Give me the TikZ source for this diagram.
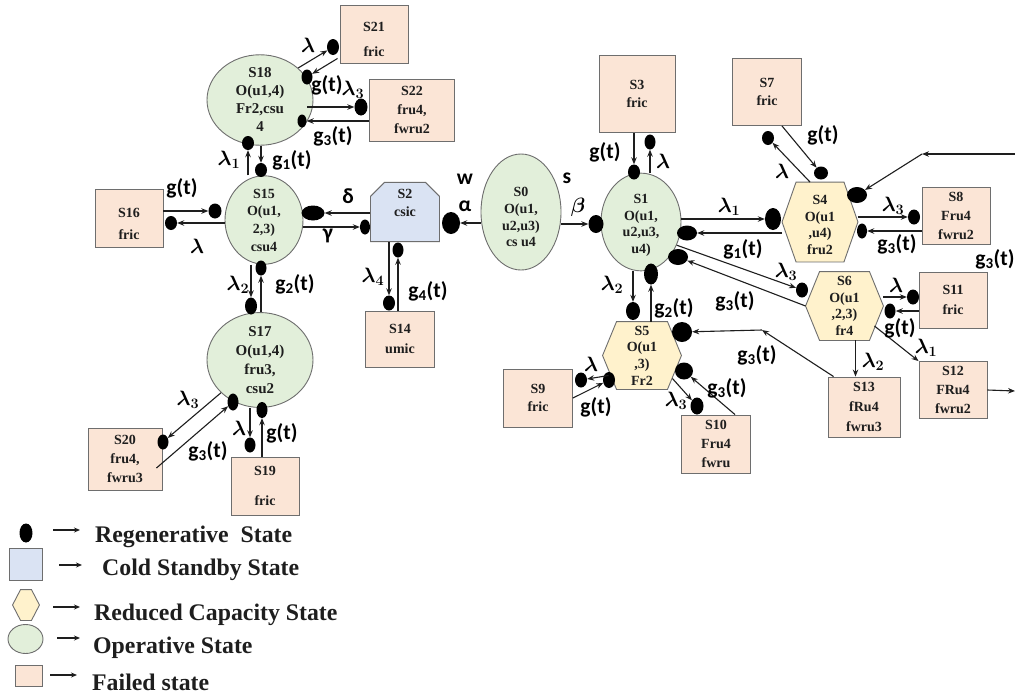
\documentclass[tikz,border=0pt]{standalone}
\usepackage{fontspec}
\setmainfont{Liberation Serif}
\newfontfamily\carlito{Carlito}
\usepackage{amsmath}
\usetikzlibrary{shapes.geometric,shapes.misc,arrows.meta,calc}
\pgfdeclarelayer{background}
\pgfsetlayers{background,main}
\definecolor{opfill}{HTML}{E2EFDA}
\definecolor{flfill}{HTML}{FBE5D6}
\definecolor{csfill}{HTML}{DAE3F3}
\definecolor{rcfill}{HTML}{FFF2CC}
\definecolor{bord}{HTML}{6E6E6E}
\definecolor{txt}{HTML}{1E1E1E}
\newcommand{\nf}{\fontsize{14}{16.7}\selectfont\bfseries}
\newcommand{\lf}{\fontsize{21.5}{24}\selectfont\carlito\bfseries}
\newcommand{\hexof}[2]{\begin{pgfonlayer}{background}\draw[hexpath] (#1.west) -- ([xshift=#2pt]#1.north west) -- ([xshift=-#2pt]#1.north east) -- (#1.east) -- ([xshift=-#2pt]#1.south east) -- ([xshift=#2pt]#1.south west) -- cycle;\end{pgfonlayer}}
\tikzset{
  base/.style={draw=bord, line width=0.9pt, inner sep=0pt, align=center, font=\nf, text=txt},
  fs/.style 2 args={font=\fontsize{#1}{#2}\selectfont\bfseries},
  opst/.style 2 args={base, ellipse, fill=opfill, minimum width=#1pt, minimum height=#2pt},
  flst/.style 2 args={base, rectangle, fill=flfill, minimum width=#1pt, minimum height=#2pt},
  rcst/.style 2 args={base, draw=none, rectangle, minimum width=#1pt, minimum height=#2pt},
  csst/.style 2 args={base, chamfered rectangle, chamfered rectangle corners={north west,north east}, chamfered rectangle xsep=7pt, chamfered rectangle ysep=7pt, fill=csfill, minimum width=#1pt, minimum height=#2pt},
  dot/.style 2 args={ellipse, fill=black, draw=none, inner sep=0pt, minimum width=#1pt, minimum height=#2pt},
  arr/.style={draw=txt, line width=1.1pt, -{Stealth[length=7pt,width=5.5pt]}},
  legarr/.style={draw=txt, line width=1.5pt, -{Stealth[length=6pt,width=5pt]}},
  lab/.style={font=\lf, inner sep=0pt, text=black},
  lam/.style={font=\fontsize{20}{22}\selectfont\boldmath, inner sep=0pt, text=black},
  legt/.style={anchor=base west, inner sep=0pt, font=\fontsize{23.8}{26}\selectfont\bfseries, text=txt},
  hexpath/.style={draw=bord, line width=0.9pt, fill=rcfill},
}
\begin{document}
\begin{tikzpicture}[x=1pt,y=-1pt]
\begin{pgfonlayer}{background}
\fill[white] (0,0) rectangle (1015,697);
\end{pgfonlayer}
\useasboundingbox (0,0) rectangle (1015,697);

% ---------- states ----------
\node[opst={106}{90}, fs={15}{18}] (S18) at (260,100) {S18\\O(u1,4)\\Fr2,csu\\4};
\node[flst={68}{58}] (S21) at (374,34) {\rule{0pt}{20pt}S21\\[8pt]fric};
\node[flst={85}{62}, fs={14}{19}] (S22) at (412,110) {S22\\fru4,\\fwru2};
\node[opst={78}{86}, fs={14}{17.7}] (S15) at (264,220) {S15\\O(u1,\\2,3)\\csu4};
\node[flst={68}{58}] (S16) at (129,218) {\rule{0pt}{21pt}S16\\[5pt]fric};
\node[csst={69}{59}, fs={14}{18}] (S2) at (405,212) {S2\\csic\\\mbox{}};
\node[flst={69}{56}] (S14) at (400,339) {S14\\[3pt]umic};
\node[opst={106}{86}, fs={15}{19}] (S17) at (260,360) {S17\\O(u1,4)\\fru3,\\csu2};
\node[flst={74}{62}, fs={14}{19}] (S20) at (125,459) {S20\\fru4,\\fwru3};
\node[flst={68}{58}] (S19) at (265,486) {S19\\[13pt]fric};
\node[opst={80}{116}] (S0) at (521,212) {\rule{0pt}{20pt}S0\\O(u1,\\u2,u3)\\cs u4};
\node[opst={80}{84}] (S1) at (641,222) {\rule{0pt}{16pt}S1\\O(u1,\\u2,u3,\\u4)};
\node[flst={76}{77}] (S3) at (637,94) {S3\\[1pt]fric};
\node[rcst={75}{79}] (S4) at (820,222) {\rule{0pt}{15pt}S4\\O(u1\\,u4)\\fru2};
\hexof{S4}{14}
\node[flst={69}{67}] (S7) at (767,92) {S7\\[1pt]fric};
\node[flst={68}{57}, fs={14}{19}] (S8) at (956,216) {S8\\Fru4\\fwru2};
\node[rcst={77}{68}] (S6) at (844.5,306) {S6\\O(u1\\,2,3)\\fr4};
\hexof{S6}{14}
\node[flst={68}{56}] (S11) at (953,300) {S11\\[3pt]fric};
\node[flst={68}{57}, fs={14}{19}] (S12) at (953,390) {S12\\FRu4\\fwru2};
\node[flst={72}{60}, fs={14}{20}] (S13) at (864,407) {S13\\fRu4\\fwru3};
\node[rcst={78}{67}] (S5) at (642,355.5) {S5\\O(u1\\,3)\\Fr2};
\hexof{S5}{14}
\node[flst={69}{58}] (S9) at (538,398) {S9\\[1pt]fric};
\node[flst={69}{58}, fs={14}{19}] (S10) at (716,444) {S10\\Fru4\\fwru};

% ---------- regenerative dots ----------
\node[dot={12}{16}] (d18a) at (333,47) {};
\node[dot={11}{15}] (d18b) at (307,77) {};
\node[dot={13}{17}] (d18c) at (361,107) {};
\node[dot={9}{13}] (d18d) at (302,121) {};
\node[dot={12}{14}] (d18e) at (248,143) {};
\node[dot={12}{14}] (d15a) at (261,170) {};
\node[dot={13}{15}] (d15b) at (215,211) {};
\node[dot={12}{14}] (d16a) at (171,223) {};
\node[dot={23}{15}] (d15c) at (313,213) {};
\node[dot={10}{15}] (d2a) at (365,227) {};
\node[dot={18}{22}] (d2b) at (451,223) {};
\node[dot={12}{15}] (d14a) at (389,303) {};
\node[dot={11}{15}] (d2c) at (398,250) {};
\node[dot={15}{18}] (d1a) at (596,224) {};
\node[dot={12}{15}] (d1b) at (634,172) {};
\node[dot={11}{15}] (d3a) at (650,142) {};
\node[dot={16}{22}] (d4a) at (773,219) {};
\node[dot={20}{15}] (d1c) at (687,233) {};
\node[dot={12}{15}] (d6a) at (802,290) {};
\node[dot={20}{16}] (d1d) at (678,257) {};
\node[dot={12}{14}] (d7a) at (768,138) {};
\node[dot={14}{13}] (d4b) at (821,173) {};
\node[dot={20}{16}] (d4c) at (857,195) {};
\node[dot={12}{15}] (d8a) at (914,217) {};
\node[dot={10}{15}] (d4d) at (862,231) {};
\node[dot={12}{15}] (d11a) at (913,297) {};
\node[dot={11}{15}] (d6b) at (890,311) {};
\node[dot={20}{20}] (d5a) at (682,332) {};
\node[dot={14}{18}] (d5b) at (633,311) {};
\node[dot={14}{21}] (d1e) at (651,274) {};
\node[dot={12}{15}] (d9a) at (581,380) {};
\node[dot={12}{16}] (d5c) at (609,380) {};
\node[dot={13}{17}] (d10a) at (697,406) {};
\node[dot={18}{17}] (d5d) at (684,371) {};
\node[dot={12}{17}] (d17a) at (251,306) {};
\node[dot={11}{15}] (d15d) at (261,268) {};
\node[dot={11}{15}] (d20a) at (163,442) {};
\node[dot={11}{17}] (d17b) at (233,402) {};
\node[dot={11}{15}] (d19a) at (250,445) {};
\node[dot={11}{16}] (d17c) at (262,410) {};

\coordinate (c0) at (1015,154);
\coordinate (c1) at (922,154);
\coordinate (c2) at (1015,391);
\coordinate (c3) at (762,330);

% ---------- connectors ----------
\draw[arr] (S18.40) -- (d18a);
\draw[arr] ([shift={(-2,-5)}]S21.south west) -- (d18b);
\draw[arr] ([xshift=-6pt]S18.east |- d18c) -- (d18c);
\draw[arr] (S22.west |- d18d) -- (d18d);
\draw[arr] (d18e |- S15.north) -- (d18e);
\draw[arr] (d15a |- S18.south) -- (d15a);
\draw[arr] (S16.east |- d15b) -- (d15b);
\draw[arr] (S15.west |- d16a) -- (d16a);
\draw[arr] (S2.west |- d15c) -- (d15c);
\draw[arr] (S15.east |- d2a) -- (d2a);
\draw[arr] (d14a |- S2.south) -- (d14a);
\draw[arr] (d2c |- S14.north) -- (d2c);
\draw[arr] (S0.west |- d2b) -- (d2b);
\draw[arr] (S0.east |- d1a) -- (d1a);
\draw[arr] (d1b |- S3.south) -- (d1b);
\draw[arr] (d3a |- S1.north) -- (d3a);
\draw[arr] (S1.east |- d4a) -- (d4a);
\draw[arr] (S4.west |- d1c) -- (d1c);
\draw[arr] (S1.-33) -- (d6a);
\draw[arr] (S6.west) -- (d1d);
\draw[arr] ([xshift=-10pt]S4.north) -- (d7a);
\draw[arr] ([xshift=15pt]S7.south) -- (d4b);
\draw[arr] (c0) -- (c1);
\draw[arr] (c1) -- (d4c);
\draw[arr] (S4.east |- d8a) -- (d8a);
\draw[arr] (S8.west |- d4d) -- (d4d);
\draw[arr] (S6.east |- d11a) -- (d11a);
\draw[arr] (S11.west |- d6b) -- (d6b);
\draw[arr] ([shift={(-9,20)}]S6.east) -- (S12.north west);
\draw[arr] (S12.east) -- (c2);
\draw[arr] ([xshift=11pt]S6.south) -- ([xshift=11pt]S6.south |- S13.north);
\draw[arr] ([xshift=6pt]S13.north west) -- (c3);
\draw[arr] (c3) -- (d5a);
\draw[arr] (d5b |- S1.south) -- (d5b);
\draw[arr] (d1e |- S5.north) -- (d1e);
\draw[arr] ([shift={(6,20)}]S5.west) -- (d9a);
\draw[arr] (S9.east) -- (d5c);
\draw[arr] ([shift={(-9,23)}]S5.east) -- (d10a);
\draw[arr] ([xshift=19pt]S10.north) -- (d5d);
\draw[arr] (d17a |- S15.south) -- (d17a);
\draw[arr] (d15d |- S17.north) -- (d15d);
\draw[arr] (S17.220) -- (d20a);
\draw[arr] ([shift={(-6,9)}]S20.east) -- (d17b);
\draw[arr] (d19a |- S17.south) -- (d19a);
\draw[arr] (d17c |- S19.north) -- (d17c);

% ---------- labels ----------
\node[lam] (l1) at (308,45) {$\lambda$};
\node[lab] (l2) at (327,85) {g(t)};
\node[lam] (l3) at (353,90) {$\lambda_3$};
\node[lab] (l4) at (333,136) {g\textsubscript{3}(t)};
\node[lam] (l5) at (229,160) {$\lambda_1$};
\node[lab] (l6) at (292,160) {g\textsubscript{1}(t)};
\node[lab] (l7) at (182,188) {g(t)};
\node[lam] (l8) at (197,246) {$\lambda$};
\node[lab] (l9) at (348,196) {δ};
\node[lab] (l10) at (328,236) {γ};
\node[lam] (l11) at (373,277) {$\lambda_4$};
\node[lab] (l12) at (428,291) {g\textsubscript{4}(t)};
\node[lab] (l13) at (465,179) {w};
\node[lab] (l14) at (465,206) {α};
\node[lab] (l15) at (567,178) {s};
\node[lam] (l16) at (578,207) {$\beta$};
\node[lab] (l17) at (605,152) {g(t)};
\node[lam] (l18) at (663,161) {$\lambda$};
\node[lam] (l19) at (729,207) {$\lambda_1$};
\node[lab] (l20) at (743,249) {g\textsubscript{1}(t)};
\node[lam] (l21) at (786,272) {$\lambda_3$};
\node[lab] (l22) at (735,301) {g\textsubscript{3}(t)};
\node[lam] (l23) at (782,171) {$\lambda$};
\node[lab] (l24) at (823,135) {g(t)};
\node[lam] (l25) at (893,206) {$\lambda_3$};
\node[lab] (l26) at (897,244) {g\textsubscript{3}(t)};
\node[lab] (l27) at (995,259) {g\textsubscript{3}(t)};
\node[lam] (l28) at (896,285) {$\lambda$};
\node[lab] (l29) at (900,328) {g(t)};
\node[lam] (l30) at (926,348) {$\lambda_1$};
\node[lam] (l31) at (873,362) {$\lambda_2$};
\node[lab] (l32) at (757,355) {g\textsubscript{3}(t)};
\node[lam] (l33) at (612,285) {$\lambda_2$};
\node[lab] (l34) at (674,308) {g\textsubscript{2}(t)};
\node[lam] (l35) at (591,364) {$\lambda$};
\node[lab] (l36) at (596,407) {g(t)};
\node[lam] (l37) at (676,401) {$\lambda_3$};
\node[lab] (l38) at (727,388) {g\textsubscript{3}(t)};
\node[lam] (l39) at (238,285) {$\lambda_2$};
\node[lab] (l40) at (295,284) {g\textsubscript{2}(t)};
\node[lam] (l41) at (188,400) {$\lambda_3$};
\node[lab] (l42) at (208,451) {g\textsubscript{3}(t)};
\node[lam] (l43) at (239,428) {$\lambda$};
\node[lab] (l44) at (282,433) {g(t)};

% ---------- legend ----------
\node[dot={13}{19}] (Lg1) at (26,533) {};
\node[csst={33}{32}, chamfered rectangle xsep=6pt, chamfered rectangle ysep=6pt] (Lg2) at (25.5,564) {};
\node[rcst={26}{30}] (Lg3) at (26,605) {};
\hexof{Lg3}{8}
\node[opst={35}{29}] (Lg4) at (25.5,639) {};
\node[flst={27}{21}] (Lg5) at (28.5,675.5) {};
\node[legt] (Lt1) at (95,542) {Regenerative\ \ State};
\node[legt] (Lt2) at (102,575) {Cold Standby State};
\node[legt] (Lt3) at (94,620) {Reduced Capacity State};
\node[legt] (Lt4) at (93,653) {Operative State};
\node[legt] (Lt5) at (92,690) {Failed state};
\coordinate (La1) at (53,530); \coordinate (Lb1) at (80,530);
\coordinate (La2) at (59,565); \coordinate (Lb2) at (82,565);
\coordinate (La3) at (53,607); \coordinate (Lb3) at (80,607);
\coordinate (La4) at (57,638); \coordinate (Lb4) at (80,638);
\coordinate (La5) at (50,675); \coordinate (Lb5) at (77,675);
\draw[legarr] (La1) -- (Lb1);
\draw[legarr] (La2) -- (Lb2);
\draw[legarr] (La3) -- (Lb3);
\draw[legarr] (La4) -- (Lb4);
\draw[legarr] (La5) -- (Lb5);
\end{tikzpicture}
\end{document}
